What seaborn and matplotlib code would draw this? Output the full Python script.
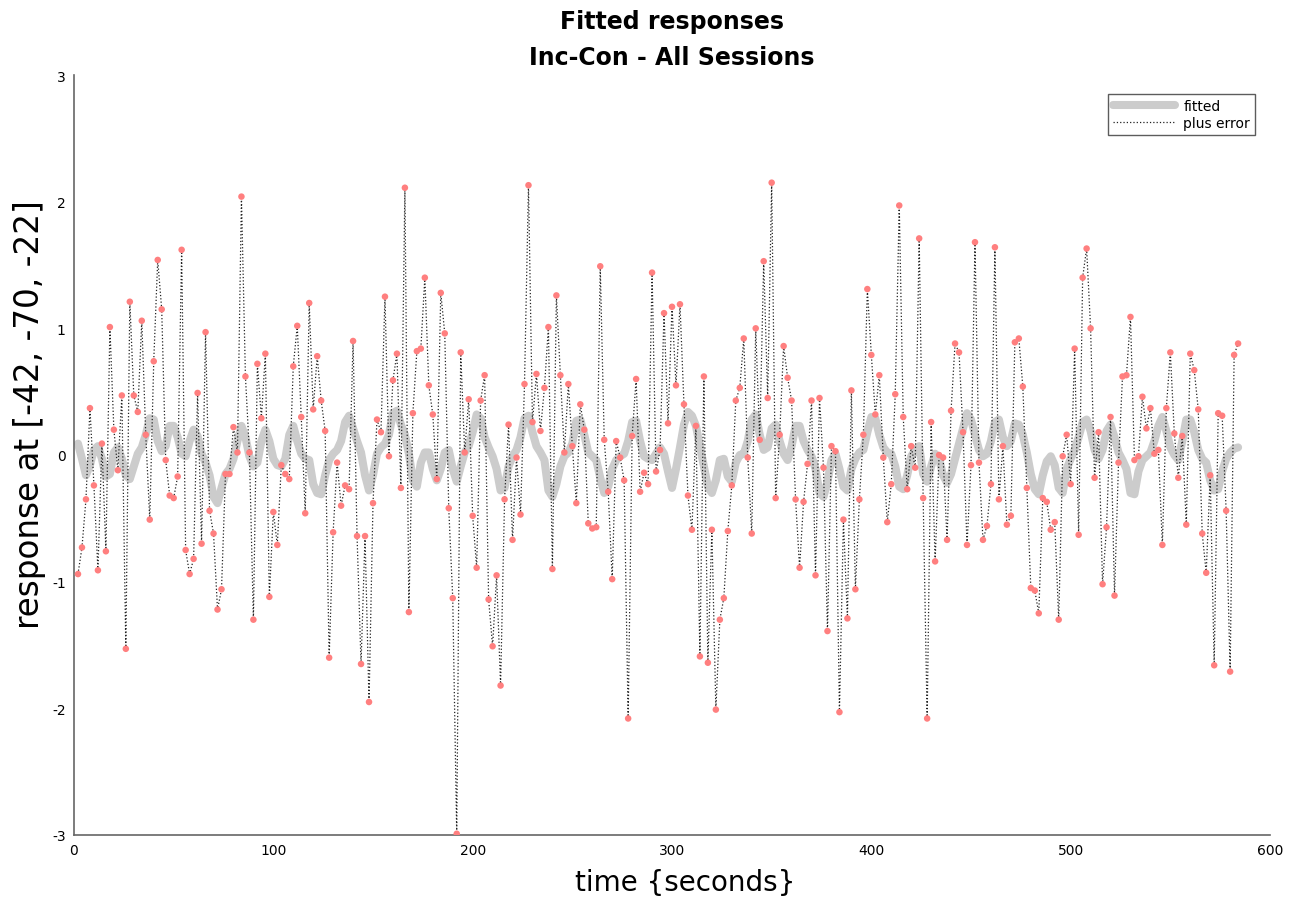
import numpy as np
import pandas as pd
import matplotlib
matplotlib.use("Agg")
import matplotlib.pyplot as plt
import seaborn as sns

# Sample times (TR = 2 s)
time_s = np.arange(2, 586, 2)

# Observed response (fitted plus residual error)
plus_error = [
    -0.94, -0.73, -0.35, 0.37, -0.24, -0.91, 0.09, -0.76, 1.01, 0.20,
    -0.12, 0.47, -1.53, 1.21, 0.47, 0.34, 1.06, 0.16, -0.51, 0.74,
    1.54, 1.15, -0.04, -0.32, -0.34, -0.17, 1.62, -0.75, -0.94, -0.82,
    0.49, -0.70, 0.97, -0.44, -0.62, -1.22, -1.06, -0.15, -0.15, 0.22,
    0.02, 2.04, 0.62, 0.02, -1.30, 0.72, 0.29, 0.80, -1.12, -0.45,
    -0.71, -0.08, -0.15, -0.19, 0.70, 1.02, 0.30, -0.46, 1.20, 0.36,
    0.78, 0.43, 0.19, -1.60, -0.61, -0.06, -0.40, -0.24, -0.27, 0.90,
    -0.64, -1.65, -0.64, -1.95, -0.38, 0.28, 0.18, 1.25, -0.01, 0.59,
    0.80, -0.26, 2.11, -1.24, 0.33, 0.82, 0.84, 1.40, 0.55, 0.32,
    -0.19, 1.28, 0.96, -0.42, -1.13, -2.99, 0.81, 0.02, 0.44, -0.48,
    -0.89, 0.43, 0.63, -1.14, -1.51, -0.95, -1.82, -0.35, 0.24, -0.67,
    -0.02, -0.47, 0.56, 2.13, 0.26, 0.64, 0.19, 0.53, 1.01, -0.90,
    1.26, 0.63, 0.02, 0.56, 0.07, -0.38, 0.40, 0.20, -0.54, -0.58,
    -0.57, 1.49, 0.12, -0.29, -0.98, 0.11, -0.02, -0.20, -2.08, 0.15,
    0.60, -0.29, -0.14, -0.23, 1.44, -0.13, 0.04, 1.12, 0.25, 1.17,
    0.55, 1.19, 0.40, -0.32, -0.59, 0.23, -1.59, 0.62, -1.64, -0.59,
    -2.01, -1.30, -1.13, -0.60, -0.24, 0.43, 0.53, 0.92, -0.02, -0.62,
    1.00, 0.12, 1.53, 0.45, 2.15, -0.34, 0.16, 0.86, 0.61, 0.43,
    -0.35, -0.89, -0.37, -0.07, 0.43, -0.95, 0.45, -0.10, -1.39, 0.07,
    0.03, -2.03, -0.51, -1.29, 0.51, -1.06, -0.35, 0.16, 1.31, 0.79,
    0.32, 0.63, -0.02, -0.53, -0.23, 0.48, 1.97, 0.30, -0.27, 0.07,
    -0.10, 1.71, -0.34, -2.08, 0.26, -0.84, 0.00, -0.02, -0.67, 0.35,
    0.88, 0.81, 0.18, -0.71, -0.08, 1.68, -0.06, -0.67, -0.56, -0.23,
    1.64, -0.35, 0.07, -0.55, -0.48, 0.89, 0.92, 0.54, -0.26, -1.05,
    -1.07, -1.25, -0.34, -0.37, -0.59, -0.53, -1.30, -0.01, 0.16, -0.23,
    0.84, -0.63, 1.40, 1.63, 1.00, -0.18, 0.18, -1.02, -0.57, 0.30,
    -1.11, -0.06, 0.62, 0.63, 1.09, -0.04, -0.01, 0.46, 0.21, 0.37,
    0.01, 0.04, -0.71, 0.37, 0.81, 0.17, -0.18, 0.15, -0.55, 0.80,
    0.67, 0.36, -0.62, -0.93, -0.16, -1.66, 0.33, 0.31, -0.44, -1.71,
    0.79, 0.88,
]

# Model fit at the same sample times
fitted = [
    0.09, -0.03, -0.16, -0.08, 0.04, 0.07, -0.03, -0.17, -0.15, 0.02,
    0.06, -0.03, -0.16, -0.19, -0.09, 0.01, 0.06, 0.16, 0.29, 0.28,
    0.11, 0.03, 0.07, 0.23, 0.23, 0.14, 0.01, -0.01, 0.11, 0.20,
    0.15, 0.01, -0.06, -0.16, -0.33, -0.38, -0.26, -0.15, -0.11, -0.03,
    0.11, 0.23, 0.14, -0.01, -0.09, -0.06, 0.11, 0.20, 0.11, -0.03,
    -0.08, -0.09, -0.03, 0.16, 0.23, 0.11, 0.01, -0.03, -0.04, -0.23,
    -0.30, -0.31, -0.16, -0.04, 0.01, 0.04, 0.11, 0.26, 0.31, 0.21,
    0.11, 0.02, -0.16, -0.28, -0.16, 0.01, 0.06, 0.09, 0.16, 0.33,
    0.35, 0.24, 0.16, 0.01, -0.20, -0.25, -0.06, 0.02, 0.02, -0.11,
    -0.20, -0.11, 0.02, 0.04, -0.11, -0.21, -0.09, 0.02, 0.07, 0.18,
    0.32, 0.29, 0.14, 0.06, -0.01, -0.11, -0.28, -0.26, -0.09, -0.01,
    0.04, 0.14, 0.29, 0.31, 0.18, 0.07, 0.02, -0.04, -0.28, -0.33,
    -0.23, -0.09, -0.01, 0.02, 0.09, 0.27, 0.28, 0.16, 0.02, -0.01,
    -0.04, -0.18, -0.30, -0.25, -0.11, -0.04, -0.01, 0.01, 0.11, 0.26,
    0.27, 0.11, -0.01, -0.03, -0.04, 0.01, 0.06, 0.01, -0.13, -0.26,
    -0.11, 0.06, 0.24, 0.34, 0.31, 0.23, 0.07, -0.09, -0.25, -0.30,
    -0.20, -0.04, -0.03, -0.17, -0.21, -0.06, 0.00, 0.01, 0.11, 0.28,
    0.32, 0.16, 0.04, 0.06, 0.21, 0.24, 0.11, 0.01, -0.04, 0.07,
    0.23, 0.23, 0.11, 0.04, -0.01, -0.11, -0.30, -0.33, -0.21, -0.04,
    0.01, -0.11, -0.25, -0.28, -0.11, -0.03, 0.02, 0.04, 0.18, 0.30,
    0.29, 0.16, 0.06, 0.02, 0.01, -0.09, -0.25, -0.27, -0.16, -0.01,
    0.04, 0.07, -0.15, -0.21, -0.09, 0.01, -0.03, -0.16, -0.22, -0.15,
    -0.03, 0.09, 0.21, 0.33, 0.28, 0.16, 0.04, -0.01, 0.01, 0.11,
    0.26, 0.28, 0.14, 0.07, 0.11, 0.25, 0.24, 0.16, 0.02, -0.15,
    -0.27, -0.31, -0.16, -0.05, -0.01, -0.08, -0.26, -0.30, -0.11, -0.03,
    0.04, 0.14, 0.26, 0.28, 0.19, 0.04, -0.03, 0.04, 0.19, 0.24,
    0.14, 0.02, -0.04, -0.11, -0.30, -0.31, -0.13, -0.04, -0.01, 0.02,
    0.11, 0.23, 0.30, 0.19, 0.06, 0.00, -0.04, 0.11, 0.28, 0.28,
    0.18, 0.04, -0.03, -0.06, -0.20, -0.28, -0.27, -0.13, -0.03, 0.02,
    0.05, 0.06,
]

x_ticks = [0, 100, 200, 300, 400, 500, 600]
y_ticks = [-3, -2, -1, 0, 1, 2, 3]

df = pd.DataFrame({"time": time_s, "fitted": fitted, "plus_error": plus_error})

sns.set_style("white")
plt.rcParams["font.family"] = ["DejaVu Sans"]
plt.rcParams["text.color"] = "black"
plt.rcParams["axes.labelcolor"] = "black"
plt.rcParams["xtick.color"] = "black"
plt.rcParams["ytick.color"] = "black"

fig = plt.figure(figsize=(13.12, 9.04), dpi=100)
ax = fig.add_axes([74 / 1312, 1 - 836 / 904, (1270 - 74) / 1312, (836 - 76) / 904])

sns.lineplot(data=df, x="time", y="fitted", ax=ax, color="#cccccc",
             linewidth=5.8, label="fitted", solid_capstyle="round", zorder=1)
sns.lineplot(data=df, x="time", y="plus_error", ax=ax, color="#222222",
             linewidth=0.9, linestyle=":", label="plus error", zorder=2)
sns.scatterplot(data=df, x="time", y="plus_error", ax=ax, color="#ff7f7f",
                s=22, edgecolor="none", zorder=3, legend=False)

ax.set_xlim(0, 600)
ax.set_ylim(-3, 3)
ax.set_xticks(x_ticks)
ax.set_yticks(y_ticks)
ax.set_xticklabels([str(v) for v in x_ticks])
ax.set_yticklabels([str(v) for v in y_ticks])
ax.tick_params(direction="in", length=8, width=1, color="#333333",
               labelsize=10, pad=6)

for side in ("top", "right"):
    ax.spines[side].set_visible(False)
for side in ("left", "bottom"):
    ax.spines[side].set_color("#666666")
    ax.spines[side].set_linewidth(1.2)

ax.set_xlabel("time {seconds}", fontsize=20)
ax.xaxis.set_label_coords(0.511, -0.044)
ax.set_ylabel("response at [-42, -70, -22]", fontsize=23.5)
ax.yaxis.set_label_coords(-0.023, 0.554)
ax.set_title("Fitted responses\nInc-Con - All Sessions", fontsize=17,
             fontweight="bold", pad=8, linespacing=1.6)

leg = ax.legend(loc="upper right", bbox_to_anchor=((1255 - 74) / 1196, 1 - 19 / 760),
                borderaxespad=0, fontsize=10, frameon=True, fancybox=False,
                edgecolor="#333333", handlelength=4.5, borderpad=0.35,
                labelspacing=0.2, handletextpad=0.6)
leg.get_frame().set_linewidth(1.0)

fig.savefig("out.png", dpi=100)
